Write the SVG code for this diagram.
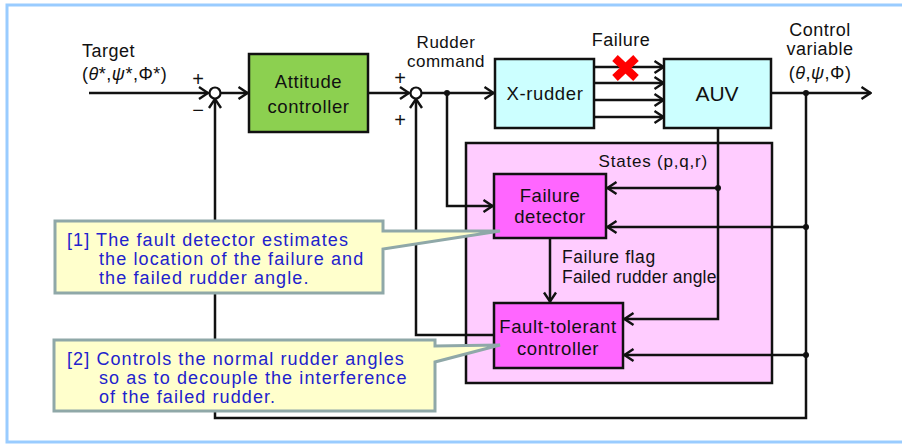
<svg xmlns="http://www.w3.org/2000/svg" width="902" height="445" viewBox="0 0 902 445">
<style>
text{font-family:"Liberation Sans",Arial,sans-serif;fill:#111}
.lbl{font-size:18px;letter-spacing:0.5px}
.box{font-size:18.5px;text-anchor:middle;letter-spacing:0.6px}
.c{font-size:18px;fill:#2222CC;letter-spacing:1.1px}
.ln{fill:none;stroke:#111;stroke-width:2.5}
.node{stroke:#111;stroke-width:2.5}
.dot{fill:#111}
</style>
<defs>
<marker id="arr" viewBox="0 0 12 14" refX="11" refY="7" markerWidth="12" markerHeight="14" orient="auto" markerUnits="userSpaceOnUse">
<path d="M1.5,1 L10.5,7 L1.5,13" fill="none" stroke="#111" stroke-width="2.4"/>
</marker>
</defs>
<rect x="7" y="5" width="910" height="437" fill="#fff" stroke="#99CCFF" stroke-width="3"/>

<g id="states-box">
<rect x="466" y="143" width="306" height="240" fill="#FFCCFF" class="node"/>
<text x="708" y="167" font-size="17" letter-spacing="0.8" text-anchor="end">States (p,q,r)</text>
</g>

<g id="connectors">
<path class="ln" d="M89,93 H208.5" marker-end="url(#arr)"/>
<path class="ln" d="M220.5,93 H248" marker-end="url(#arr)"/>
<path class="ln" d="M368,93 H409.5" marker-end="url(#arr)"/>
<path class="ln" d="M421.5,93 H494" marker-end="url(#arr)"/>
<path class="ln" d="M447,93 V206 H493" marker-end="url(#arr)"/>
<path class="ln" d="M594,67 H664" marker-end="url(#arr)"/>
<path class="ln" d="M594,83 H664" marker-end="url(#arr)"/>
<path class="ln" d="M594,100 H664" marker-end="url(#arr)"/>
<path class="ln" d="M594,117 H664" marker-end="url(#arr)"/>
<path class="ln" d="M771,93 H871" marker-end="url(#arr)"/>
<path class="ln" d="M806,93 V418 H215 V98.5" marker-end="url(#arr)"/>
<path class="ln" d="M806,227 H607" marker-end="url(#arr)"/>
<path class="ln" d="M806,355 H624" marker-end="url(#arr)"/>
<path class="ln" d="M718,128 V319 H624" marker-end="url(#arr)"/>
<path class="ln" d="M718,188 H607" marker-end="url(#arr)"/>
<path class="ln" d="M550,238 V302" marker-end="url(#arr)"/>
<path class="ln" d="M494,335 H416 V98.5" marker-end="url(#arr)"/>
<circle class="dot" cx="447" cy="93" r="3"/>
<circle class="dot" cx="806" cy="93" r="3"/>
<circle class="dot" cx="718" cy="188" r="3"/>
<circle class="dot" cx="806" cy="227" r="3"/>
<circle class="dot" cx="806" cy="355" r="3"/>
</g>

<g id="sum1">
<circle cx="215" cy="93" r="5.5" fill="#fff" stroke="#111" stroke-width="2.2"/>
<text x="198" y="86" font-size="20" text-anchor="middle">+</text>
<text x="198" y="117" font-size="20" text-anchor="middle">−</text>
</g>
<g id="sum2">
<circle cx="416" cy="93" r="5.5" fill="#fff" stroke="#111" stroke-width="2.2"/>
<text x="400" y="85" font-size="20" text-anchor="middle">+</text>
<text x="400" y="127" font-size="20" text-anchor="middle">+</text>
</g>

<g id="target-label">
<text class="lbl" x="82" y="57">Target</text>
<text class="lbl" x="82" y="80" letter-spacing="2">(<tspan font-style="italic">θ</tspan>*,<tspan font-style="italic">ψ</tspan>*,Φ*)</text>
</g>

<g id="attitude-controller">
<rect x="249" y="54" width="119" height="78" fill="#8CD050" class="node"/>
<text class="box" x="308.5" y="88">Attitude</text>
<text class="box" x="308.5" y="113">controller</text>
</g>

<g id="rudder-label">
<text x="446" y="48" font-size="17" letter-spacing="0.5" text-anchor="middle">Rudder</text>
<text x="446" y="67" font-size="17" letter-spacing="0.5" text-anchor="middle">command</text>
</g>

<g id="x-rudder">
<rect x="495" y="59" width="99" height="69" fill="#CCFFFF" class="node"/>
<text class="box" x="545" y="100" letter-spacing="1">X-rudder</text>
</g>

<g id="failure-mark">
<text class="lbl" x="621" y="46" text-anchor="middle">Failure</text>
<path d="M615,58 L636,78 M636,58 L615,78" stroke="#FF0000" stroke-width="8"/>
</g>

<g id="auv">
<rect x="664" y="59" width="107" height="69" fill="#CCFFFF" class="node"/>
<text x="717" y="101" font-size="21" text-anchor="middle">AUV</text>
</g>

<g id="control-variable">
<text class="lbl" x="820" y="36" text-anchor="middle">Control</text>
<text class="lbl" x="820" y="55" text-anchor="middle">variable</text>
<text class="lbl" x="820" y="79" letter-spacing="2.5" text-anchor="middle">(<tspan font-style="italic">θ</tspan>,<tspan font-style="italic">ψ</tspan>,Φ)</text>
</g>

<g id="failure-detector">
<rect x="494" y="174" width="112" height="64" fill="#FF66FF" class="node"/>
<text class="box" x="550" y="202">Failure</text>
<text class="box" x="550" y="223">detector</text>
</g>

<g id="flag-label">
<text x="562" y="263" font-size="17.5" letter-spacing="0.6">Failure flag</text>
<text x="562" y="283" font-size="17.5" letter-spacing="0.2">Failed rudder angle</text>
</g>

<g id="fault-tolerant-controller">
<rect x="494" y="303" width="129" height="65" fill="#FF66FF" class="node"/>
<text class="box" x="558" y="333" letter-spacing="0.2">Fault-tolerant</text>
<text class="box" x="558" y="355">controller</text>
</g>

<g id="callout1">
<path d="M55,221 H383 V231 L500,231 L383,249 V293 H55 Z" fill="#FFFFCC" stroke="#8FA8A8" stroke-width="3" stroke-linejoin="miter"/>
<text class="c" x="67" y="246">[1] The fault detector estimates</text>
<text class="c" x="99" y="265">the location of the failure and</text>
<text class="c" x="99" y="284">the failed rudder angle.</text>
</g>

<g id="callout2">
<path d="M54,340 H435 V346 L500,345 L435,362 V411 H54 Z" fill="#FFFFCC" stroke="#8FA8A8" stroke-width="3"/>
<text class="c" x="67" y="365">[2] Controls the normal rudder angles</text>
<text class="c" x="99" y="384">so as to decouple the interference</text>
<text class="c" x="99" y="403">of the failed rudder.</text>
</g>
</svg>
